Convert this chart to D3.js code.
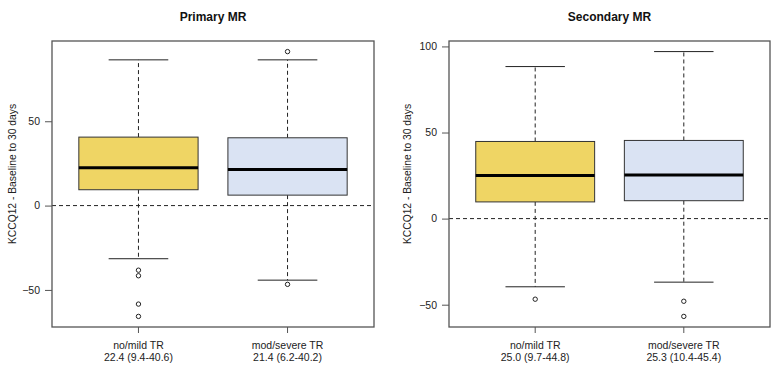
<!DOCTYPE html>
<html>
<head>
<meta charset="utf-8">
<script src="https://cdn.jsdelivr.net/npm/d3@7"></script>
<style>
  html, body { margin: 0; padding: 0; background: #fff; }
  svg { display: block; font-family: "Liberation Sans", Arial, sans-serif; }
</style>
</head>
<body>
<svg id="chart" width="780" height="370"></svg>
<script>
// ---- data ----
const categories = ["no/mild TR", "mod/severe TR"];
const boxColors = ["#efd564", "#dae3f3"];

const primaryTitle = "Primary MR";
const primarySubLabels = ["22.4 (9.4-40.6)", "21.4 (6.2-40.2)"];
const primaryMedian = [22.4, 21.4];
const primaryQ1 = [9.4, 6.2];
const primaryQ3 = [40.6, 40.2];
const primaryWhiskerLow = [-31.5, -44.2];
const primaryWhiskerHigh = [86.4, 86.4];
const primaryOutliers = [[-38.3, -41.6, -58.4, -65.7], [91.3, -46.7]];
const primaryTicks = [-50, 0, 50];

const secondaryTitle = "Secondary MR";
const secondarySubLabels = ["25.0 (9.7-44.8)", "25.3 (10.4-45.4)"];
const secondaryMedian = [25.0, 25.3];
const secondaryQ1 = [9.7, 10.4];
const secondaryQ3 = [44.8, 45.4];
const secondaryWhiskerLow = [-39.6, -36.9];
const secondaryWhiskerHigh = [88.3, 97.0];
const secondaryOutliers = [[-46.8], [-48.0, -56.8]];
const secondaryTicks = [-50, 0, 50, 100];

const yTitle = "KCCQ12 - Baseline to 30 days";

// ---- drawing ----
const svg = d3.select("#chart");

function panel(cfg) {
  const { x0, x1, y0, y1, title, sub, med, q1, q3, wl, wh, outl, ticks, titleX, titleY } = cfg;
  const g = svg.append("g");
  const all = [].concat(wl, wh, ...outl);
  const lo = d3.min(all), hi = d3.max(all);
  const pad = 0.04 * (hi - lo);
  const y = d3.scaleLinear().domain([lo - pad, hi + pad]).range([y1, y0]);
  const x = d3.scaleLinear().domain([0.42, 2.58]).range([x0, x1]);
  const idx = categories.map((c, i) => i);

  // zero reference line
  g.append("line")
    .attr("x1", x0).attr("x2", x1)
    .attr("y1", y(0)).attr("y2", y(0))
    .attr("stroke", "#222").attr("stroke-width", 1)
    .attr("stroke-dasharray", "4,3");

  idx.forEach(i => {
    const cx = x(i + 1);
    const bw = x(1.4) - x(1);   // half box width (0.8 total)
    const sw = x(1.2) - x(1);   // half staple width
    g.append("line").attr("x1", cx).attr("x2", cx)
      .attr("y1", y(q3[i])).attr("y2", y(wh[i]))
      .attr("stroke", "#222").attr("stroke-dasharray", "4,3");
    g.append("line").attr("x1", cx).attr("x2", cx)
      .attr("y1", y(q1[i])).attr("y2", y(wl[i]))
      .attr("stroke", "#222").attr("stroke-dasharray", "4,3");
    [wh[i], wl[i]].forEach(v => {
      g.append("line").attr("x1", cx - sw).attr("x2", cx + sw)
        .attr("y1", y(v)).attr("y2", y(v))
        .attr("stroke", "#222").attr("stroke-width", 1);
    });
    g.append("rect")
      .attr("x", cx - bw).attr("width", 2 * bw)
      .attr("y", y(q3[i])).attr("height", y(q1[i]) - y(q3[i]))
      .attr("fill", boxColors[i]).attr("stroke", "#333").attr("stroke-width", 1);
    g.append("line").attr("x1", cx - bw).attr("x2", cx + bw)
      .attr("y1", y(med[i])).attr("y2", y(med[i]))
      .attr("stroke", "#000").attr("stroke-width", 3);
    g.selectAll(null).data(outl[i]).enter().append("circle")
      .attr("cx", cx).attr("cy", d => y(d)).attr("r", 2.2)
      .attr("fill", "none").attr("stroke", "#222").attr("stroke-width", 1);
  });

  // frame
  g.append("rect").attr("x", x0).attr("y", y0)
    .attr("width", x1 - x0).attr("height", y1 - y0)
    .attr("fill", "none").attr("stroke", "#555").attr("stroke-width", 1.3);

  // y axis
  const yAxis = d3.axisLeft(y).tickValues(ticks).tickSize(7).tickPadding(5).tickFormat(d3.format("d"));
  const ya = g.append("g").attr("transform", `translate(${x0},0)`).call(yAxis);
  ya.select(".domain").remove();
  ya.selectAll("line").attr("stroke", "#555");
  ya.selectAll("text").attr("fill", "#222").style("font-size", "10.5px")
    .style("font-family", "'Liberation Sans', Arial, sans-serif");

  // x axis
  const xa = g.append("g").attr("transform", `translate(0,${y1})`);
  idx.forEach(i => {
    const cx = x(i + 1);
    xa.append("line").attr("x1", cx).attr("x2", cx).attr("y1", 0).attr("y2", 6).attr("stroke", "#555");
    xa.append("text").attr("x", cx).attr("y", 22).attr("text-anchor", "middle")
      .attr("fill", "#222").style("font-size", "10.5px").text(categories[i]);
    xa.append("text").attr("x", cx).attr("y", 34).attr("text-anchor", "middle")
      .attr("fill", "#222").style("font-size", "10.5px").text(sub[i]);
  });

  // y title
  g.append("text")
    .attr("transform", `translate(${titleX},${titleY}) rotate(-90)`)
    .attr("text-anchor", "middle").attr("dy", "0.35em")
    .attr("fill", "#222").style("font-size", "10.3px").text(yTitle);

  // main title
  g.append("text").attr("x", (x0 + x1) / 2).attr("y", 21)
    .attr("text-anchor", "middle").attr("fill", "#111")
    .style("font-size", "12px").style("font-weight", "bold").text(title);
}

panel({ x0: 52, x1: 374, y0: 41, y1: 327, title: primaryTitle, sub: primarySubLabels,
  med: primaryMedian, q1: primaryQ1, q3: primaryQ3, wl: primaryWhiskerLow, wh: primaryWhiskerHigh,
  outl: primaryOutliers, ticks: primaryTicks, titleX: 12, titleY: 174 });
panel({ x0: 449, x1: 770, y0: 41, y1: 327, title: secondaryTitle, sub: secondarySubLabels,
  med: secondaryMedian, q1: secondaryQ1, q3: secondaryQ3, wl: secondaryWhiskerLow, wh: secondaryWhiskerHigh,
  outl: secondaryOutliers, ticks: secondaryTicks, titleX: 407, titleY: 174 });
</script>
</body>
</html>
